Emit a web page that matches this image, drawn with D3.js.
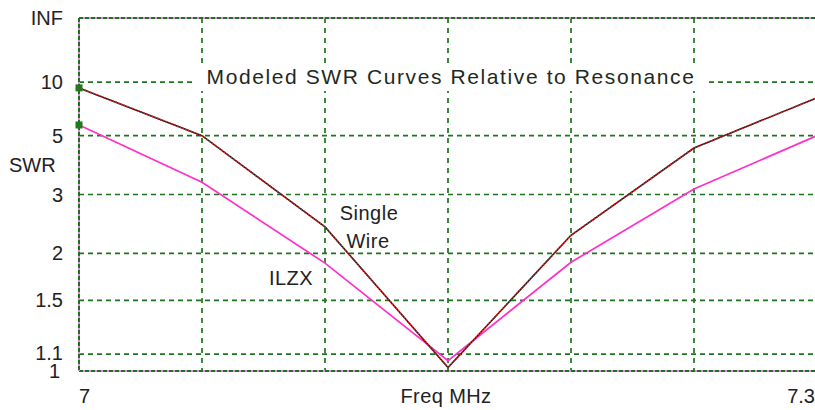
<!DOCTYPE html>
<html>
<head>
<meta charset="utf-8">
<script src="https://cdn.jsdelivr.net/npm/d3@7"></script>
<style>
  body { margin: 0; background: #fff; }
  svg { display: block; font-family: "Liberation Sans", Arial, sans-serif; }
</style>
</head>
<body>
<div id="chart"></div>
<script>
const freqs = [7.0, 7.05, 7.1, 7.15, 7.2, 7.25, 7.3];
const singleWire = [9.1, 5.0, 2.38, 1.02, 2.25, 4.43, 7.85];
const ilzx = [5.6, 3.3, 1.88, 1.06, 1.89, 3.13, 5.0];
const swrTicks = [1, 1.1, 1.5, 2, 3, 5, 10, Infinity];
const swrLabels = ['1', '1.1', '1.5', '2', '3', '5', '10', 'INF'];
const freqLabels = ['7', 'Freq MHz', '7.3'];

const width = 815, height = 410;
const plotLeft = 79, plotRight = 817, plotTop = 18, plotBottom = 371;

const svg = d3.select('#chart').append('svg')
  .attr('width', width)
  .attr('height', height);

const x = d3.scaleLinear().domain([7, 7.3]).range([plotLeft, plotRight]);
// SWR axis is linear in reflection coefficient
const gamma = s => isFinite(s) ? (s - 1) / (s + 1) : 1;
const yg = d3.scaleLinear().domain([0, 1]).range([plotBottom, plotTop]);
const y = s => yg(gamma(s));

const green = '#1f731f';
const grid = svg.append('g');

// dashed gridlines
grid.selectAll('.hg')
  .data(swrTicks.filter(s => s > 1 && isFinite(s)))
  .enter().append('line')
    .attr('x1', plotLeft).attr('x2', plotRight)
    .attr('y1', d => y(d)).attr('y2', d => y(d))
    .attr('stroke', green).attr('stroke-width', 1.7)
    .attr('stroke-dasharray', '5,4');

grid.selectAll('.vg')
  .data(freqs.slice(1, -1))
  .enter().append('line')
    .attr('x1', d => x(d)).attr('x2', d => x(d))
    .attr('y1', plotTop).attr('y2', plotBottom)
    .attr('stroke', green).attr('stroke-width', 1.7)
    .attr('stroke-dasharray', '5,5');

// frame: green with pink dots
const frame = [
  [plotLeft, plotTop, plotRight, plotTop],
  [plotLeft, plotBottom, plotRight, plotBottom],
  [plotLeft, plotTop, plotLeft, plotBottom]
];
frame.forEach(f => {
  grid.append('line')
    .attr('x1', f[0]).attr('y1', f[1]).attr('x2', f[2]).attr('y2', f[3])
    .attr('stroke', '#e58ae5').attr('stroke-width', 2);
  grid.append('line')
    .attr('x1', f[0]).attr('y1', f[1]).attr('x2', f[2]).attr('y2', f[3])
    .attr('stroke', green).attr('stroke-width', 2)
    .attr('stroke-dasharray', '4,2');
});

// title with white box
svg.append('rect')
  .attr('x', 196).attr('y', 63).attr('width', 510).attr('height', 28)
  .attr('fill', '#fff');
svg.append('text')
  .attr('x', 451).attr('y', 84)
  .attr('text-anchor', 'middle')
  .attr('font-size', 21)
  .attr('letter-spacing', 1.6)
  .attr('fill', '#1e2a1e')
  .text('Modeled SWR Curves Relative to Resonance');

const line = d3.line()
  .x((d, i) => x(freqs[i]))
  .y(d => y(d));

svg.append('path')
  .attr('d', line(ilzx))
  .attr('fill', 'none')
  .attr('stroke', '#ff2fc8').attr('stroke-width', 1.7);

svg.append('path')
  .attr('d', line(singleWire))
  .attr('fill', 'none')
  .attr('stroke', '#2a1a1a').attr('stroke-width', 1.6);
svg.append('path')
  .attr('d', line(singleWire))
  .attr('fill', 'none')
  .attr('stroke', '#e02020').attr('stroke-width', 1.6)
  .attr('stroke-dasharray', '1.5,1.5');

// start markers
svg.selectAll('.mk')
  .data([singleWire[0], ilzx[0]])
  .enter().append('rect')
    .attr('x', x(freqs[0]) - 3.5).attr('y', d => y(d) - 3.5)
    .attr('width', 7).attr('height', 7)
    .attr('fill', '#1f7a1f');

// y tick labels
const labelColor = '#222';
const fs = 20;
svg.selectAll('.yl')
  .data(swrTicks)
  .enter().append('text')
    .attr('x', (d, i) => i === 0 ? 60 : 63)
    .attr('y', (d, i) => i === 1 ? y(d) + 6 : y(d) + 7)
    .attr('text-anchor', 'end')
    .attr('font-size', fs)
    .attr('fill', labelColor)
    .text((d, i) => swrLabels[i]);

svg.append('text')
  .attr('x', 9).attr('y', 172)
  .attr('font-size', fs)
  .attr('fill', labelColor)
  .text('SWR');

// x labels
svg.append('text')
  .attr('x', x(7)).attr('y', 403)
  .attr('font-size', fs).attr('fill', labelColor)
  .text(freqLabels[0]);
svg.append('text')
  .attr('x', x(7.15) - 2).attr('y', 403)
  .attr('text-anchor', 'middle')
  .attr('font-size', fs).attr('letter-spacing', 0.4).attr('fill', labelColor)
  .text(freqLabels[1]);
svg.append('text')
  .attr('x', 815).attr('y', 403)
  .attr('text-anchor', 'end')
  .attr('font-size', fs).attr('fill', labelColor)
  .text(freqLabels[2]);

// series labels
svg.append('text')
  .attr('x', 369).attr('y', 220)
  .attr('text-anchor', 'middle')
  .attr('font-size', fs).attr('letter-spacing', 0.5).attr('fill', labelColor)
  .text('Single');
svg.append('text')
  .attr('x', 368).attr('y', 248)
  .attr('text-anchor', 'middle')
  .attr('font-size', fs).attr('letter-spacing', 0.5).attr('fill', labelColor)
  .text('Wire');
svg.append('text')
  .attr('x', 291).attr('y', 285)
  .attr('text-anchor', 'middle')
  .attr('font-size', fs).attr('letter-spacing', 0.5).attr('fill', labelColor)
  .text('ILZX');
</script>
</body>
</html>
